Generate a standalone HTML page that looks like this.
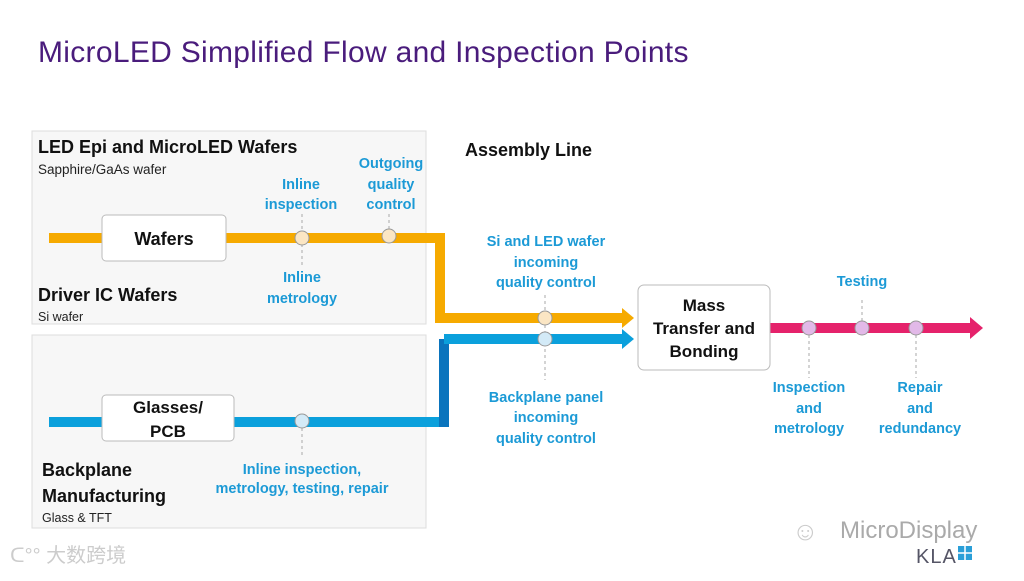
<!DOCTYPE html>
<html><head><meta charset="utf-8"><style>
body{margin:0;background:#fff}
svg text{font-family:"Liberation Sans","Noto Sans CJK SC",sans-serif}
.b{fill:#1c9ad6;font-weight:bold;font-size:14.5px;text-anchor:middle}
.k{fill:#111;font-weight:bold;font-size:18px}
.s{fill:#222;font-size:13.5px}
.n{fill:#111;font-weight:bold;font-size:17px;text-anchor:middle}
</style></head><body>
<svg width="1024" height="576" viewBox="0 0 1024 576" xmlns="http://www.w3.org/2000/svg">
<text x="38" y="62" style="font-size:30px;fill:#4a1c7c;letter-spacing:0.3px">MicroLED Simplified Flow and Inspection Points</text>
<rect x="32" y="131" width="394" height="193" fill="#f7f7f7" stroke="#ddd"/>
<rect x="32" y="335" width="394" height="193" fill="#f7f7f7" stroke="#ddd"/>
<text x="38" y="153" class="k">LED Epi and MicroLED Wafers</text>
<text x="38" y="174" class="s">Sapphire/GaAs wafer</text>
<text x="38" y="301" class="k">Driver IC Wafers</text>
<text x="38" y="321" class="s" style="font-size:12.5px">Si wafer</text>
<text x="42" y="476" class="k">Backplane</text>
<text x="42" y="502" class="k">Manufacturing</text>
<text x="42" y="522" class="s" style="font-size:12.5px">Glass &amp; TFT</text>
<text x="465" y="156" class="k">Assembly Line</text>
<g stroke="#aaa" stroke-dasharray="3,3" stroke-width="1">
<line x1="302" y1="214" x2="302" y2="266"/><line x1="389" y1="214" x2="389" y2="230"/>
<line x1="302" y1="428" x2="302" y2="458"/>
<line x1="545" y1="295" x2="545" y2="380"/>
<line x1="809" y1="335" x2="809" y2="378"/><line x1="862" y1="300" x2="862" y2="322"/><line x1="916" y1="335" x2="916" y2="378"/>
</g>
<path d="M49 238 H440 V318 H622" fill="none" stroke="#f6aa00" stroke-width="10"/>
<polygon points="622,308 634,318 622,328" fill="#f6aa00"/>
<path d="M49 422 H444" fill="none" stroke="#0ba0dc" stroke-width="10"/>
<path d="M444 427 V339" fill="none" stroke="#0a74bd" stroke-width="10"/>
<path d="M444 339 H622" fill="none" stroke="#0ba0dc" stroke-width="10"/>
<polygon points="622,329 634,339 622,349" fill="#0ba0dc"/>
<path d="M770 328 H970" fill="none" stroke="#e5226b" stroke-width="10"/>
<polygon points="970,317 983,328 970,339" fill="#e5226b"/>
<g stroke="#999" stroke-width="1">
<circle cx="302" cy="238" r="7" fill="#fbe6c4"/><circle cx="389" cy="236" r="7" fill="#fbe6c4"/>
<circle cx="545" cy="318" r="7" fill="#fbe6c4"/><circle cx="545" cy="339" r="7" fill="#d3eaf7"/>
<circle cx="302" cy="421" r="7" fill="#d3eaf7"/>
<circle cx="809" cy="328" r="7" fill="#e2b9e8"/><circle cx="862" cy="328" r="7" fill="#e2b9e8"/><circle cx="916" cy="328" r="7" fill="#e2b9e8"/>
</g>
<rect x="102" y="215" width="124" height="46" rx="4" fill="#fff" stroke="#bbb"/>
<text x="164" y="245" class="n" style="font-size:18px">Wafers</text>
<rect x="102" y="395" width="132" height="46" rx="4" fill="#fff" stroke="#bbb"/>
<text x="168" y="413" class="n">Glasses/</text><text x="168" y="437" class="n">PCB</text>
<rect x="638" y="285" width="132" height="85" rx="6" fill="#fff" stroke="#bbb"/>
<text x="704" y="311" class="n">Mass</text><text x="704" y="334" class="n">Transfer and</text><text x="704" y="357" class="n">Bonding</text>
<text class="b" x="301" y="189">Inline</text><text class="b" x="301" y="209">inspection</text>
<text class="b" x="391" y="168">Outgoing</text><text class="b" x="391" y="189">quality</text><text class="b" x="391" y="209">control</text>
<text class="b" x="302" y="282">Inline</text><text class="b" x="302" y="303">metrology</text>
<text class="b" x="546" y="246">Si and LED wafer</text><text class="b" x="546" y="267">incoming</text><text class="b" x="546" y="287">quality control</text>
<text class="b" x="546" y="402">Backplane panel</text><text class="b" x="546" y="422">incoming</text><text class="b" x="546" y="443">quality control</text>
<text class="b" x="302" y="474">Inline inspection,</text><text class="b" x="302" y="493">metrology, testing, repair</text>
<text class="b" x="862" y="286">Testing</text>
<text class="b" x="809" y="392">Inspection</text><text class="b" x="809" y="413">and</text><text class="b" x="809" y="433">metrology</text>
<text class="b" x="920" y="392">Repair</text><text class="b" x="920" y="413">and</text><text class="b" x="920" y="433">redundancy</text>
<text x="10" y="562" style="font-size:20px;fill:#ccc">ᑕ°° 大数跨境</text>
<text x="840" y="538" style="font-size:24px;fill:#aaa">MicroDisplay</text>
<text x="792" y="540" style="font-size:26px;fill:#ccc">☺</text>
<text x="916" y="563" style="font-size:20px;fill:#556;letter-spacing:1px">KLA</text>
<rect x="958" y="546" width="14" height="14" fill="#2a9fd8"/>
<path d="M965 546 V560 M958 553 H972" stroke="#fff" stroke-width="1.5"/>
</svg>
</body></html>
